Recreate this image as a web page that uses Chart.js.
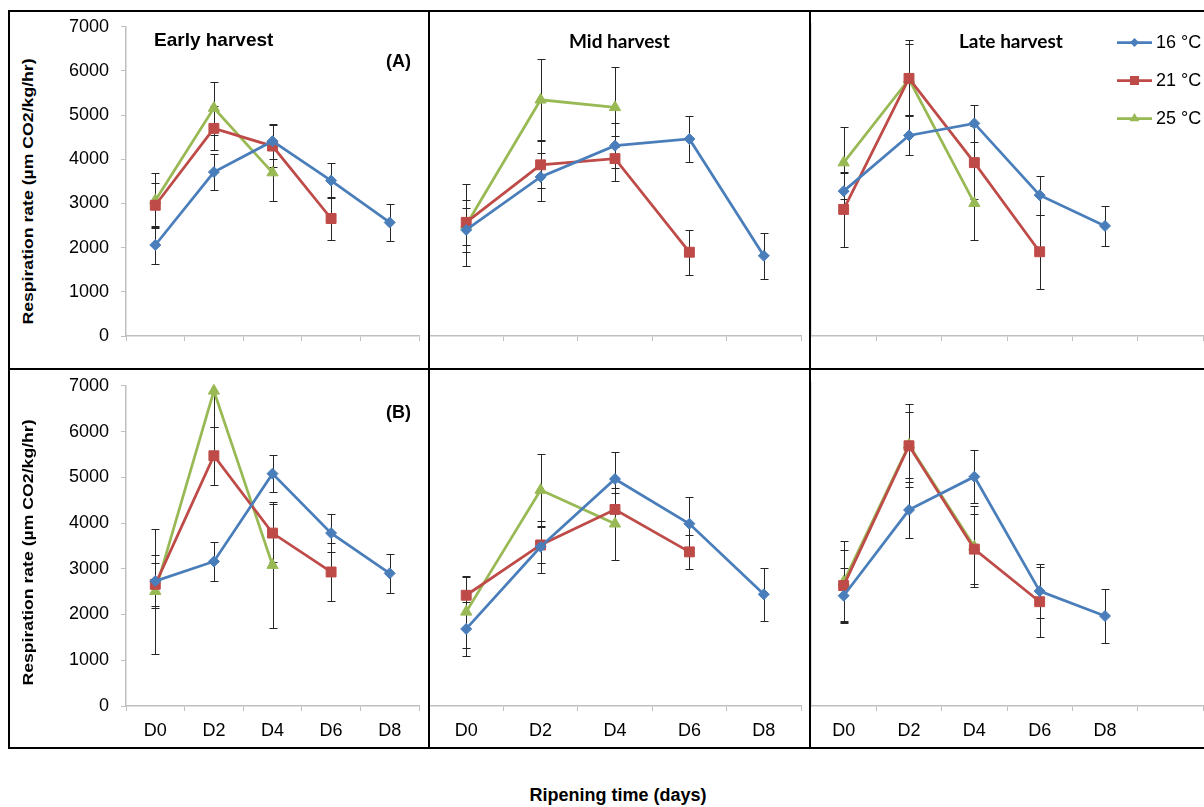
<!DOCTYPE html>
<html><head><meta charset="utf-8">
<script src="https://cdn.jsdelivr.net/npm/chart.js@4.4.1/dist/chart.umd.min.js"></script>
<style>
html,body{margin:0;padding:0;background:#fff;}
body{width:1204px;height:807px;overflow:hidden;position:relative;font-family:Arial,"Liberation Sans",sans-serif;}
.ln{position:absolute;background:#000;}
.cv{position:absolute;}
.tx{position:absolute;white-space:nowrap;line-height:1;color:#000;}
</style></head><body>
<script>
// ---------- data ----------
const days = ["D0", "D2", "D4", "D6", "D8"];
const tempLabels = ["16 °C", "21 °C", "25 °C"];
const yTickValues = [0, 1000, 2000, 3000, 4000, 5000, 6000, 7000];
const panelTitles = ["Early harvest", "Mid harvest", "Late harvest"];
const rowTags = ["(A)", "(B)"];
const yTitle = "Respiration rate (µm CO2/kg/hr)";
const xTitle = "Ripening time (days)";

// (A) Early harvest
const aEarly16 = [2060, 3710, 4410, 3520, 2570];
const aEarly21 = [2960, 4700, 4300, 2660, null];
const aEarly25 = [3070, 5160, 3700, null, null];
const aEarly16Err = [430, 400, 400, 390, 420];
const aEarly21Err = [500, 500, 480, 480, null];
const aEarly25Err = [630, 600, 640, null, null];
// (A) Mid harvest
const aMid16 = [2380, 3570, 4270, 4420, 1800];
const aMid21 = [2550, 3840, 3980, 1880, null];
const aMid25 = [2490, 5300, 5130, null, null];
const aMid16Err = [500, 545, 510, 510, 515];
const aMid21Err = [500, 530, 500, 505, null];
const aMid25Err = [910, 910, 900, null, null];
// (A) Late harvest
const aLate16 = [3250, 4500, 4770, 3160, 2470];
const aLate21 = [2840, 5780, 3890, 1890, null];
const aLate25 = [3890, 5760, 2980, null, null];
const aLate16Err = [410, 450, 420, 435, 440];
const aLate21Err = [840, 850, 820, 830, null];
const aLate25Err = [810, 800, 825, null, null];
// (B) Early harvest
const bEarly16 = [2730, 3160, 5080, 3780, 2900];
const bEarly21 = [2660, 5470, 3780, 2930, null];
const bEarly25 = [2510, 6890, 3080, null, null];
const bEarly16Err = [580, 420, 410, 420, 420];
const bEarly21Err = [470, 630, 640, 640, null];
const bEarly25Err = [1370, 800, 1370, null, null];
// (B) Mid harvest
const bMid16 = [1670, 3450, 4920, 3950, 2420];
const bMid21 = [2400, 3490, 4260, 3340, null];
const bMid25 = [2040, 4680, 3950, null, null];
const bMid16Err = [580, 570, 580, 570, 575];
const bMid21Err = [400, 400, 350, 370, null];
const bMid25Err = [780, 780, 780, null, null];
// (B) Late harvest
const bLate16 = [2390, 4250, 4970, 2490, 1950];
const bLate21 = [2610, 5640, 3400, 2260, null];
const bLate25 = [2690, 5660, 3450, null, null];
const bLate16Err = [600, 600, 580, 590, 590];
const bLate21Err = [770, 900, 760, 760, null];
const bLate25Err = [880, 720, 880, null, null];

// ---------- styles / layout ----------
const colors = ["#4a7ebb", "#be4b48", "#98b954"];
const pStyles = ["rectRot", "rect", "triangle"];
const pRadius = [5.5, 7, 6.5];
const colX = [[126, 427], [429, 809], [811, 1211]];
const rowY = [[24, 336], [383, 706]];

const panels = [
  {r:0, c:0, s:[aEarly16, aEarly21, aEarly25], e:[aEarly16Err, aEarly21Err, aEarly25Err]},
  {r:0, c:1, s:[aMid16, aMid21, aMid25], e:[aMid16Err, aMid21Err, aMid25Err]},
  {r:0, c:2, s:[aLate16, aLate21, aLate25], e:[aLate16Err, aLate21Err, aLate25Err], legend:true},
  {r:1, c:0, s:[bEarly16, bEarly21, bEarly25], e:[bEarly16Err, bEarly21Err, bEarly25Err]},
  {r:1, c:1, s:[bMid16, bMid21, bMid25], e:[bMid16Err, bMid21Err, bMid25Err]},
  {r:1, c:2, s:[bLate16, bLate21, bLate25], e:[bLate16Err, bLate21Err, bLate25Err]}
];

// ---------- plugins ----------
const errorBarPlugin = {
  id: "errorBars",
  beforeDatasetsDraw(chart) {
    const {ctx, chartArea: a, scales: {x, y}} = chart;
    ctx.save();
    ctx.beginPath();
    ctx.rect(a.left - 10, a.top, a.right - a.left + 20, a.bottom - a.top);
    ctx.clip();
    ctx.strokeStyle = "#262626";
    ctx.lineWidth = 1;
    chart.data.datasets.forEach(ds => {
      ds.data.forEach((v, i) => {
        const e = ds.errorBars ? ds.errorBars[i] : null;
        if (v == null || e == null) return;
        const px = Math.round(x.getPixelForValue(i)) + 0.5;
        const yt = Math.round(y.getPixelForValue(v + e)) + 0.5;
        const yb = Math.round(y.getPixelForValue(v - e)) + 0.5;
        ctx.beginPath();
        ctx.moveTo(px, yt); ctx.lineTo(px, yb);
        ctx.moveTo(px - 4, yt); ctx.lineTo(px + 4, yt);
        ctx.moveTo(px - 4, yb); ctx.lineTo(px + 4, yb);
        ctx.stroke();
      });
    });
    ctx.restore();
  }
};

const legendPlugin = {
  id: "sideLegend",
  afterDraw(chart, args, opts) {
    if (!opts || !opts.show) return;
    const ctx = chart.ctx;
    ctx.save();
    chart.data.datasets.forEach((ds, i) => {
      const y = opts.ys[i] - opts.oy;
      const x0 = opts.x0 - opts.ox, x1 = opts.x1 - opts.ox, xm = (x0 + x1) / 2;
      ctx.strokeStyle = ds.borderColor;
      ctx.lineWidth = 2.75;
      ctx.beginPath(); ctx.moveTo(x0, y); ctx.lineTo(x1, y); ctx.stroke();
      ctx.fillStyle = ds.borderColor;
      ctx.beginPath();
      if (ds.pointStyle === "rectRot") {
        const r = 4.5;
        ctx.moveTo(xm, y - r); ctx.lineTo(xm + r, y); ctx.lineTo(xm, y + r); ctx.lineTo(xm - r, y);
      } else if (ds.pointStyle === "rect") {
        ctx.rect(xm - 4.5, y - 4.5, 9, 9);
      } else {
        const r = 5.5;
        ctx.moveTo(xm, y - r);
        ctx.lineTo(xm + r * 0.866, y + r * 0.5);
        ctx.lineTo(xm - r * 0.866, y + r * 0.5);
      }
      ctx.closePath(); ctx.fill();
      ctx.fillStyle = "#000";
      ctx.font = "18px Arial, 'Liberation Sans', sans-serif";
      ctx.textBaseline = "middle";
      ctx.textAlign = "left";
      ctx.fillText(ds.label, opts.tx - opts.ox, y + 1);
    });
    ctx.restore();
  }
};

// ---------- build charts ----------
const AX = "#bfbfbf";
panels.forEach(p => {
  const showY = p.c === 0, showX = p.r === 1;
  const yW = showY ? 80 : 10, padTop = 20, xH = showX ? 40 : 30;
  const [aL, aR] = colX[p.c], [aT, aB] = rowY[p.r];
  const left = aL - yW, top = aT - padTop, w = aR - left, h = aB + xH - top;
  const cv = document.createElement("canvas");
  cv.className = "cv";
  cv.width = w; cv.height = h;
  cv.style.left = left + "px"; cv.style.top = top + "px";
  cv.style.width = w + "px"; cv.style.height = h + "px";
  document.body.appendChild(cv);
  const labels = p.c === 2 ? days.concat([""]) : days;
  new Chart(cv.getContext("2d"), {
    type: "line",
    data: {
      labels: labels,
      datasets: p.s.map((d, i) => ({
        label: tempLabels[i], data: d, errorBars: p.e[i],
        borderColor: colors[i], backgroundColor: colors[i],
        pointStyle: pStyles[i], pointRadius: pRadius[i], pointBorderWidth: 1,
        pointBorderColor: colors[i], pointBackgroundColor: colors[i],
        borderWidth: 2.75, spanGaps: false, tension: 0, clip: 8
      }))
    },
    options: {
      responsive: false, animation: false, events: [], devicePixelRatio: 1,
      layout: {padding: {top: padTop, left: 0, right: 0, bottom: 0}},
      plugins: {
        legend: {display: false}, tooltip: {enabled: false}, title: {display: false},
        sideLegend: {show: !!p.legend, x0: 1117, x1: 1152, tx: 1156, ys: [42.5, 80.5, 118.5], ox: left, oy: top}
      },
      scales: {
        x: {
          offset: true,
          grid: {offset: true, drawOnChartArea: false, drawTicks: true, tickLength: 5, color: AX, lineWidth: 1},
          border: {display: true, color: AX, width: 1.5},
          ticks: {display: showX, color: "#000", padding: 9, font: {family: "Arial, 'Liberation Sans', sans-serif", size: 18}, autoSkip: false, maxRotation: 0},
          afterFit: s => { s.height = xH; }
        },
        y: {
          min: 0, max: 7000,
          afterBuildTicks: s => { s.ticks = yTickValues.map(v => ({value: v})); },
          grid: {display: showY, drawOnChartArea: false, drawTicks: true, tickLength: 5, color: AX, lineWidth: 1},
          border: {display: true, color: AX, width: 1.5},
          ticks: {display: showY, color: "#000", padding: 12, font: {family: "Arial, 'Liberation Sans', sans-serif", size: 18},
                  callback: v => String(v)},
          afterFit: s => { s.width = yW; }
        }
      }
    },
    plugins: [errorBarPlugin, legendPlugin]
  });
});

// ---------- frames ----------
function line(l, t, w, h) {
  const d = document.createElement("div");
  d.className = "ln";
  d.style.left = l + "px"; d.style.top = t + "px"; d.style.width = w + "px"; d.style.height = h + "px";
  document.body.appendChild(d);
}
line(8, 10, 1200, 2);
line(8, 368, 1200, 2);
line(8, 747, 1200, 2);
line(8, 10, 2, 739);
line(428, 10, 2, 739);
line(809, 10, 2, 739);

// ---------- texts ----------
function text(str, o) {
  const d = document.createElement("div");
  d.className = "tx";
  d.textContent = str;
  d.style.fontSize = o.size + "px";
  d.style.fontWeight = o.weight || "normal";
  d.style.fontFamily = o.family || "Arial, 'Liberation Sans', sans-serif";
  document.body.appendChild(d);
  const asc = o.asc || 0.8465;
  d.style.top = (o.baseline - o.size * asc) + "px";
  if (o.center != null) d.style.left = (o.center - d.offsetWidth / 2) + "px";
  else d.style.left = o.left + "px";
  return d;
}
text(panelTitles[0], {left: 154, baseline: 46.5, size: 19, weight: "bold"});
text(panelTitles[1], {center: 619.5, baseline: 48, size: 19, weight: "bold", family: "Lato, 'Open Sans', sans-serif", asc: 0.887});
text(panelTitles[2], {center: 1011, baseline: 48, size: 19, weight: "bold", family: "Lato, 'Open Sans', sans-serif", asc: 0.887});
text(rowTags[0], {left: 386, baseline: 67, size: 18, weight: "bold"});
text(rowTags[1], {left: 386, baseline: 418, size: 18, weight: "bold"});
text(xTitle, {center: 618, baseline: 801, size: 18, weight: "bold"});

[191.5, 552].forEach(cy => {
  const d = document.createElement("div");
  d.className = "tx";
  d.textContent = yTitle;
  d.style.fontSize = "15px";
  d.style.fontWeight = "bold";
  document.body.appendChild(d);
  const w = d.offsetWidth, h = d.offsetHeight;
  const k = 266 / w;
  d.style.left = (27 - w / 2) + "px";
  d.style.top = (cy - h / 2) + "px";
  d.style.transform = "rotate(-90deg) scaleX(" + k.toFixed(3) + ")";
  d.style.transformOrigin = "50% 50%";
});
</script>
</body></html>
